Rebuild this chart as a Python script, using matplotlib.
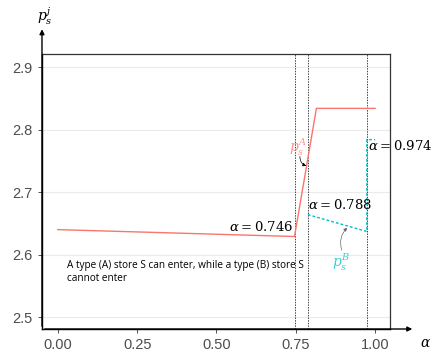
import matplotlib
matplotlib.use("Agg")
import matplotlib.pyplot as plt

# price of store S, type A
alpha_a = [0.0, 0.746, 0.815, 1.0]
price_a = [2.640, 2.629, 2.834, 2.834]

# price of store S, type B
alpha_b = [0.788, 0.974, 0.974, 1.0]
price_b = [2.664, 2.637, 2.784, 2.784]

thresholds = [0.746, 0.788, 0.974]
x_ticks = [0.0, 0.25, 0.50, 0.75, 1.00]
y_ticks = [2.5, 2.6, 2.7, 2.8, 2.9]

red = "#f8766d"
cyan = "#00bfc4"

plt.rcParams["mathtext.fontset"] = "dejavuserif"

fig = plt.figure(figsize=(4.32, 3.54), dpi=100)
ax = fig.add_axes([0.0972, 0.0706, 0.8056, 0.7769])

for y in y_ticks:
    ax.axhline(y, color="#ebebeb", lw=0.8, zorder=0)
for t in thresholds:
    ax.axvline(t, color="#444444", lw=0.7, ls=(0, (1.5, 1.2)), zorder=1)

ax.plot(alpha_a, price_a, color=red, lw=1.0, zorder=3)
ax.plot(alpha_b, price_b, color=cyan, lw=1.0, ls=(0, (2.0, 1.5)), zorder=3)

ax.set_xlim(-0.05, 1.047)
ax.set_ylim(2.481, 2.921)
ax.set_xticks(x_ticks)
ax.set_xticklabels(["0.00", "0.25", "0.50", "0.75", "1.00"])
ax.set_yticks(y_ticks)
ax.tick_params(colors="#333333", labelcolor="#4d4d4d", labelsize=10.5, length=3, width=0.6)
for lab in ax.get_xticklabels() + ax.get_yticklabels():
    lab.set_family("Liberation Sans")

for side in ["top", "right"]:
    ax.spines[side].set_color("#333333")
    ax.spines[side].set_linewidth(0.9)
for side in ["left", "bottom"]:
    ax.spines[side].set_color("black")
    ax.spines[side].set_linewidth(1.0)

# axis arrows
ax.annotate("", xy=(-0.05, 2.965), xytext=(-0.05, 2.481), xycoords="data",
            arrowprops=dict(arrowstyle="-|>", color="black", lw=1.0, mutation_scale=7),
            annotation_clip=False)
ax.annotate("", xy=(1.126, 2.481), xytext=(-0.05, 2.481), xycoords="data",
            arrowprops=dict(arrowstyle="-|>", color="black", lw=1.0, mutation_scale=7),
            annotation_clip=False)

fig.text(0.086, 0.955, r"$p_s^j$", fontsize=10, ha="left", va="center")
fig.text(0.972, 0.012, r"$\alpha$", fontsize=10, ha="left", va="bottom")

ax.text(0.742, 2.633, r"$\alpha = 0.746$", fontsize=9.5, ha="right", va="bottom")
ax.text(0.789, 2.668, r"$\alpha = 0.788$", fontsize=9.5, ha="left", va="bottom")
ax.text(0.977, 2.763, r"$\alpha = 0.974$", fontsize=9.5, ha="left", va="bottom")

# curve labels with small curved arrows
ax.text(0.757, 2.771, r"$p_s^A$", color=red, fontsize=10, ha="center", va="center", alpha=0.75)
ax.annotate("", xy=(0.783, 2.742), xytext=(0.763, 2.757),
            arrowprops=dict(arrowstyle="-|>", color="black", lw=0.5,
                            connectionstyle="arc3,rad=0.35", mutation_scale=5,
                            shrinkA=0, shrinkB=0))
ax.text(0.893, 2.588, r"$p_s^B$", color=cyan, fontsize=10, ha="center", va="center", alpha=0.75)
ax.annotate("", xy=(0.912, 2.643), xytext=(0.895, 2.607),
            arrowprops=dict(arrowstyle="-|>", color="#666666", lw=0.5,
                            connectionstyle="arc3,rad=-0.3", mutation_scale=5,
                            shrinkA=0, shrinkB=0))

ax.text(0.03, 2.592, "A type (A) store S can enter, while a type (B) store S\ncannot enter",
        fontsize=7.2, ha="left", va="top", family="Open Sans", linespacing=1.35)

fig.savefig("out.png", dpi=100)
